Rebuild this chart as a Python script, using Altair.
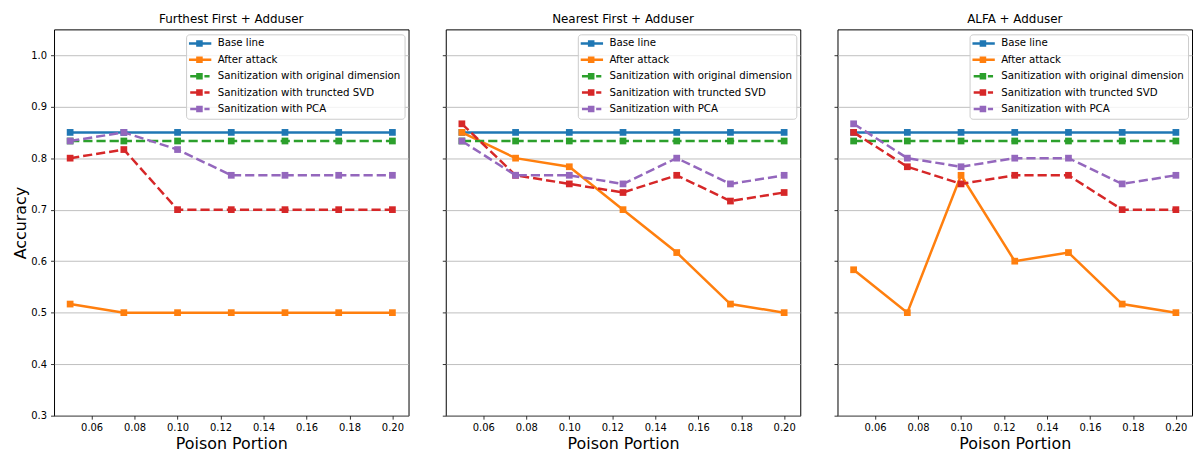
import altair as alt
import pandas as pd

# ---------------- data ----------------
x_vals = [0.05, 0.075, 0.10, 0.125, 0.15, 0.175, 0.20]
x_ticks = [0.06, 0.08, 0.10, 0.12, 0.14, 0.16, 0.18, 0.20]
y_ticks = [0.3, 0.4, 0.5, 0.6, 0.7, 0.8, 0.9, 1.0]

series_names = [
    "Base line",
    "After attack",
    "Sanitization with original dimension",
    "Sanitization with truncted SVD",
    "Sanitization with PCA",
]
series_colors = ["#1f77b4", "#ff7f0e", "#2ca02c", "#d62728", "#9467bd"]
series_dashed = [False, False, True, True, True]

panel_titles = ["Furthest First + Adduser", "Nearest First + Adduser", "ALFA + Adduser"]

# Furthest First + Adduser
ff_base = [0.85, 0.85, 0.85, 0.85, 0.85, 0.85, 0.85]
ff_attack = [0.5167, 0.5, 0.5, 0.5, 0.5, 0.5, 0.5]
ff_orig = [0.8333, 0.8333, 0.8333, 0.8333, 0.8333, 0.8333, 0.8333]
ff_svd = [0.80, 0.8167, 0.70, 0.70, 0.70, 0.70, 0.70]
ff_pca = [0.8333, 0.85, 0.8167, 0.7667, 0.7667, 0.7667, 0.7667]

# Nearest First + Adduser
nf_base = [0.85, 0.85, 0.85, 0.85, 0.85, 0.85, 0.85]
nf_attack = [0.85, 0.80, 0.7833, 0.70, 0.6167, 0.5167, 0.50]
nf_orig = [0.8333, 0.8333, 0.8333, 0.8333, 0.8333, 0.8333, 0.8333]
nf_svd = [0.8667, 0.7667, 0.75, 0.7333, 0.7667, 0.7167, 0.7333]
nf_pca = [0.8333, 0.7667, 0.7667, 0.75, 0.80, 0.75, 0.7667]

# ALFA + Adduser
al_base = [0.85, 0.85, 0.85, 0.85, 0.85, 0.85, 0.85]
al_attack = [0.5833, 0.50, 0.7667, 0.60, 0.6167, 0.5167, 0.50]
al_orig = [0.8333, 0.8333, 0.8333, 0.8333, 0.8333, 0.8333, 0.8333]
al_svd = [0.85, 0.7833, 0.75, 0.7667, 0.7667, 0.70, 0.70]
al_pca = [0.8667, 0.80, 0.7833, 0.80, 0.80, 0.75, 0.7667]

panel_data = [
    [ff_base, ff_attack, ff_orig, ff_svd, ff_pca],
    [nf_base, nf_attack, nf_orig, nf_svd, nf_pca],
    [al_base, al_attack, al_orig, al_svd, al_pca],
]

# ---------------- styling ----------------
FONT = "DejaVu Sans"
# legend handle glyphs (line + square marker), unit = 5 px
SOLID_SYM = "M-1.25,-0.25H3.25V0.25H-1.25Z M0.2,-0.66H1.52V0.66H0.2Z"
DASH_SYM = "M-1,-0.25H0.85V0.25H-1Z M0.2,-0.66H1.52V0.66H0.2Z M1.86,-0.25H2.9V0.25H1.86Z"
legend_paths = [DASH_SYM if d else SOLID_SYM for d in series_dashed]


def make_panel(idx):
    rows = []
    for name, vals in zip(series_names, panel_data[idx]):
        for xv, yv in zip(x_vals, vals):
            rows.append({"portion": xv, "accuracy": yv, "series": name})
    df = pd.DataFrame(rows)
    first = idx == 0

    x_enc = alt.X(
        "portion:Q",
        scale=alt.Scale(domain=[0.0425, 0.2075], nice=False, zero=False),
        axis=alt.Axis(values=x_ticks, format=".2f", title="Poison Portion", grid=False),
    )
    y_axis_kwargs = dict(values=y_ticks, format=".1f", grid=True, labels=first)
    y_axis_kwargs["title"] = "Accuracy" if first else ""
    y_enc = alt.Y(
        "accuracy:Q",
        scale=alt.Scale(domain=[0.3, 1.05], nice=False, zero=False),
        axis=alt.Axis(**y_axis_kwargs),
    )

    layers = []
    for name, color, dashed in zip(series_names, series_colors, series_dashed):
        base = alt.Chart(df).transform_filter(alt.datum.series == name)
        line_kwargs = dict(strokeWidth=2.5, color=color)
        if dashed:
            line_kwargs["strokeDash"] = [9.25, 4]
        line = base.mark_line(**line_kwargs).encode(x=x_enc, y=y_enc)
        pts = base.mark_square(size=46, filled=True, opacity=1, color=color).encode(x=x_enc, y=y_enc)
        layers += [line, pts]

    leg = alt.Legend(
        title=None, orient="top-right", offset=4.5, padding=4, rowPadding=5.5,
        symbolSize=100, symbolStrokeWidth=0, symbolOpacity=1, labelOffset=17.5,
        labelFontSize=10.3, labelFont=FONT, labelColor="black", labelLimit=400,
        fillColor="rgba(255,255,255,0.8)", strokeColor="#cccccc", cornerRadius=3,
    )
    legend_layer = alt.Chart(df).mark_point(filled=True, opacity=0).encode(
        x=x_enc, y=y_enc,
        color=alt.Color("series:N", scale=alt.Scale(domain=series_names, range=series_colors), legend=leg),
        shape=alt.Shape("series:N", scale=alt.Scale(domain=series_names, range=legend_paths), legend=leg),
    )
    layers.append(legend_layer)

    return alt.layer(*layers).properties(
        width=357, height=389,
        title=alt.TitleParams(panel_titles[idx], fontSize=12, fontWeight="normal",
                              font=FONT, color="black", offset=3, anchor="middle"),
    )


panels = [make_panel(i) for i in range(3)]

chart = (
    alt.hconcat(*panels, spacing=31.5)
    .resolve_scale(color="independent", shape="independent")
    .resolve_legend(color="independent", shape="independent")
    .properties(padding={"left": 11.4, "top": 11, "right": 0, "bottom": 0}, background="white")
    .configure_view(stroke="black", strokeWidth=1)
    .configure_axis(
        labelFont=FONT, labelFontSize=10, labelColor="black",
        tickColor="black", tickSize=3.5, tickWidth=0.8, domain=False,
        gridColor="#b0b0b0", gridWidth=0.8,
        titleFont=FONT, titleFontSize=16, titleFontWeight="normal", titleColor="black",
    )
    .configure_axisX(titlePadding=3.3, labelPadding=3.5)
    .configure_axisY(titlePadding=2.5, labelPadding=4)
)

chart.save("out.html", embed_options={"renderer": "svg", "actions": False})
